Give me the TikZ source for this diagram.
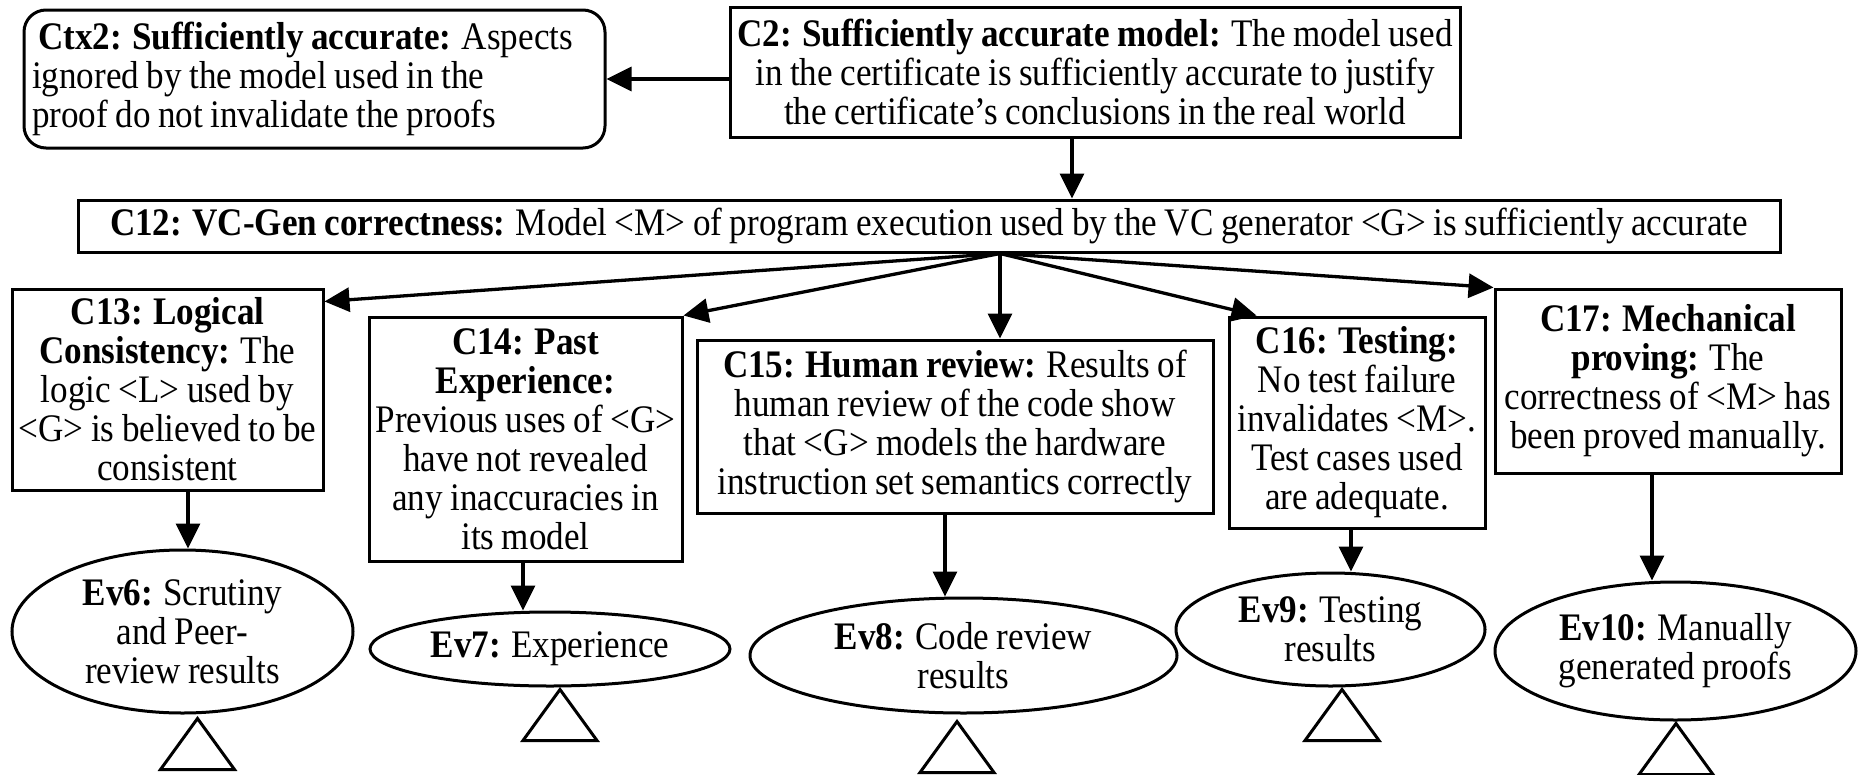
\documentclass[tikz,border=0pt]{standalone}
\usepackage{fontspec}
\setmainfont{Liberation Serif}[FakeStretch=0.9, WordSpace=0.85]
\usetikzlibrary{arrows.meta,shapes.geometric}
\tikzset{
  gtext/.style={font=\fontsize{39}{39}\selectfont, align=center, inner sep=0pt},
  goal/.style={gtext, draw, line width=3pt, rectangle},
  ctxbox/.style={gtext, draw, line width=3pt, rounded corners=22pt, align=flush left},
  evid/.style={gtext, draw, line width=3pt, ellipse, inner sep=-25pt},
  arr/.style={line width=3.3pt, -{Triangle[length=25pt,width=24pt]}},
  undev/.pic={\draw[line width=3pt, line join=miter] (0,0) -- (-37,51) -- (37,51) -- cycle;}
}
\begin{document}
\begin{tikzpicture}[x=1pt,y=-1pt]
\useasboundingbox (0,0) rectangle (1858,774);

% context and top-level claim
\node[ctxbox, minimum width=581pt, minimum height=138pt, text width=565pt] (ctx2) at (314.5,79)
  {\hspace*{6pt}\textbf{Ctx2: Sufficiently accurate:} Aspects\\ ignored by the model used in the\\ proof do not invalidate the proofs};
\node[goal, minimum width=730pt, minimum height=130pt] (c2) at (1095,72)
  {\textbf{C2: Sufficiently accurate model:} The model used\\ in the certificate is sufficiently accurate to justify\\ the certificate’s conclusions in the real world};

% VC generator claim
\node[goal, minimum width=1702pt, minimum height=52pt] (c12) at (929,226)
  {\textbf{C12: VC-Gen correctness:} Model <M> of program execution used by the VC generator <G> is sufficiently accurate};

% sub-claims
\node[goal, minimum width=311pt, minimum height=201pt] (c13) at (167.5,389.5)
  {\textbf{C13: Logical}\\ \textbf{Consistency:} The\\ logic <L> used by\\ <G> is believed to be\\ consistent};
\node[goal, minimum width=313pt, minimum height=244pt] (c14) at (525.5,439)
  {\textbf{C14: Past}\\ \textbf{Experience:}\\ Previous uses of <G>\\ have not revealed\\ any inaccuracies in\\ its model};
\node[goal, minimum width=516pt, minimum height=173pt] (c15) at (955,426.5)
  {\textbf{C15: Human review:} Results of\\ human review of the code show\\ that <G> models the hardware\\ instruction set semantics correctly};
\node[goal, minimum width=256pt, minimum height=211pt] (c16) at (1357,422.5)
  {\textbf{C16: Testing:}\\ No test failure\\ invalidates <M>.\\ Test cases used\\ are adequate.};
\node[goal, minimum width=346pt, minimum height=184pt] (c17) at (1668,381)
  {\textbf{C17: Mechanical}\\ \textbf{proving:} The\\ correctness of <M> has\\ been proved manually.};

% evidence
\node[evid, minimum width=341pt, minimum height=163pt] (ev6) at (182.5,631.5)
  {\textbf{Ev6:} Scrutiny\\ and Peer-\\ review results};
\node[evid, minimum width=360pt, minimum height=74pt] (ev7) at (550,649)
  {\textbf{Ev7:} Experience};
\node[evid, minimum width=427pt, minimum height=115pt] (ev8) at (963.5,655.5)
  {\textbf{Ev8:} Code review\\ results};
\node[evid, minimum width=309pt, minimum height=113pt] (ev9) at (1330.5,629.5)
  {\textbf{Ev9:} Testing\\ results};
\node[evid, minimum width=361pt, minimum height=138pt] (ev10) at (1675.5,651)
  {\textbf{Ev10:} Manually\\ generated proofs};

% undeveloped markers
\pic at ([xshift=15pt,yshift=-4pt]ev6.south) {undev};
\pic at ([xshift=10pt,yshift=-2pt]ev7.south) {undev};
\pic at ([xshift=-6.5pt,yshift=-7pt]ev8.south) {undev};
\pic at ([xshift=11.5pt,yshift=-2pt]ev9.south) {undev};
\pic at ([xshift=0.5pt,yshift=-2pt]ev10.south) {undev};

% connectors
\draw[arr] (c2.west |- ctx2.east) -- (ctx2.east);
\draw[arr] ([xshift=-23pt]c2.south) -- ([xshift=-23pt]c2.south |- c12.north);

\coordinate (fan) at ([xshift=71pt]c12.south);
\draw[arr] (fan) -- ([yshift=-14pt]c13.north east);
\draw[arr] (fan) -- (c14.north east);
\draw[arr] (fan) -- (fan |- c15.north);
\draw[arr] (fan) -- ([xshift=29pt]c16.north west);
\draw[arr] (fan) -- (c17.north west);

\draw[arr] ([xshift=20.5pt]c13.south) -- ([xshift=20.5pt]c13.south |- ev6.north);
\draw[arr] ([xshift=-2.5pt]c14.south) -- ([xshift=-2.5pt]c14.south |- ev7.north);
\draw[arr] ([xshift=-10pt]c15.south) -- ([xshift=-10pt]c15.south |- ev8.north);
\draw[arr] ([xshift=-6pt]c16.south) -- ([xshift=-6pt]c16.south |- ev9.north);
\draw[arr] ([xshift=-16pt]c17.south) -- ([xshift=-16pt]c17.south |- ev10.north);
\end{tikzpicture}
\end{document}
